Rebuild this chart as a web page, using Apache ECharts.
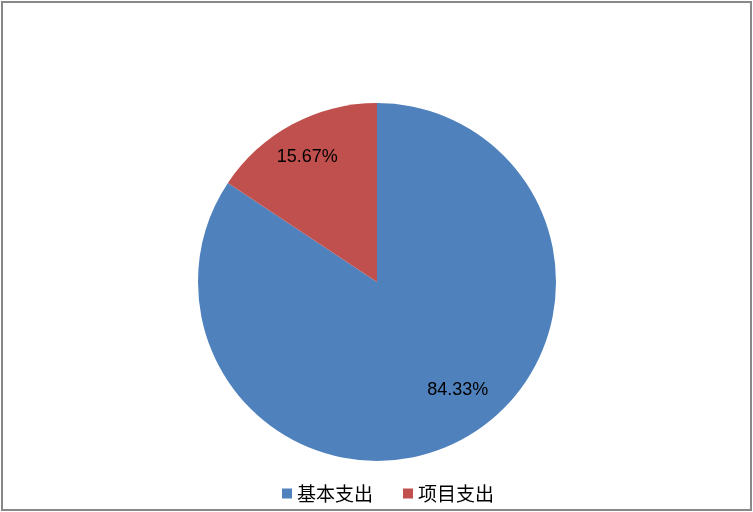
<!DOCTYPE html>
<html>
<head>
<meta charset="utf-8">
<script src="https://cdn.jsdelivr.net/npm/echarts@6/dist/echarts.min.js"></script>
<style>
html,body{margin:0;padding:0;background:#fff;}
#chart{width:753px;height:512px;}
</style>
</head>
<body>
<div id="chart"></div>
<script>
const categories = ['基本支出', '项目支出'];
const values = [84.33, 15.67];
const colors = ['#4F81BD', '#C0504D'];
// label nudges relative to the default inside position (dx, dy)
const labelShift = [[37, 27], [-26, -43]];

const chart = echarts.init(document.getElementById('chart'));
chart.setOption({
  animation: false,
  backgroundColor: '#fff',
  color: colors,
  graphic: [{
    type: 'rect',
    shape: {x: 2, y: 2, width: 749, height: 508},
    style: {fill: 'none', stroke: '#888888', lineWidth: 2},
    silent: true
  }],
  legend: {
    left: 277,
    top: 479,
    itemWidth: 10,
    itemHeight: 10,
    itemGap: 30,
    icon: 'rect',
    textStyle: {fontFamily: 'Noto Sans CJK SC', fontSize: 19, color: '#000'},
    data: categories
  },
  series: [{
    type: 'pie',
    center: [377, 282],
    radius: [0, 179],
    startAngle: 90,
    clockwise: true,
    label: {
      show: true,
      position: 'inside',
      formatter: p => p.value.toFixed(2) + '%',
      fontFamily: 'Liberation Sans',
      fontSize: 18,
      color: '#000'
    },
    labelLayout: p => ({dx: labelShift[p.dataIndex][0], dy: labelShift[p.dataIndex][1]}),
    labelLine: {show: false},
    emphasis: {disabled: true},
    itemStyle: {borderWidth: 0},
    data: categories.map((c, i) => ({name: c, value: values[i]}))
  }]
});
</script>
</body>
</html>
